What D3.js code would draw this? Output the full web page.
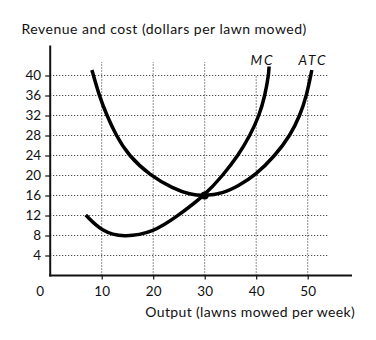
<!DOCTYPE html>
<html>
<head>
<meta charset="utf-8">
<script src="https://cdn.jsdelivr.net/npm/d3@7"></script>
<style>
  html, body { margin: 0; padding: 0; background: #fff; }
  svg { display: block; font-family: Lato, "Open Sans", sans-serif; }
</style>
</head>
<body>
<svg id="chart" width="376" height="340"></svg>
<script>
// Output ticks (lawns mowed per week) and cost ticks (dollars per lawn)
const xTicks = [10, 20, 30, 40, 50];
const yTicks = [4, 8, 12, 16, 20, 24, 28, 32, 36, 40];

// Marginal cost curve: [output, dollars]
const mcCurve = [
  [6.9, 12.1], [10, 8.8], [14.2, 7.6], [20, 8.6], [24.6, 11.8], [30, 16],
  [33.5, 20], [36.5, 24], [38.8, 28], [40.6, 32], [41.7, 36], [42.4, 40], [42.5, 41.8]
];

// Average total cost curve: [output, dollars]
const atcCurve = [
  [8.1, 41.1], [9.5, 36], [11.0, 32], [12.8, 28], [15.2, 24], [19.4, 20],
  [23.9, 17.4], [27.1, 16.2], [30, 15.9], [33.5, 16.4], [36.5, 17.9], [39.8, 20],
  [43.7, 24], [46.6, 28], [48.5, 32], [49.8, 36], [50.8, 41.1]
];

// Where MC crosses ATC at its minimum
const minATC = [30, 16];

const svg = d3.select("#chart");

const x = d3.scaleLinear().domain([0, 50]).range([50.2, 307.7]);
const y = d3.scaleLinear().domain([0, 40]).range([275.5, 75.5]);

// Dotted grid
const grid = svg.append("g")
  .attr("stroke", "#222")
  .attr("stroke-width", 1)
  .attr("stroke-dasharray", "1,2");

grid.selectAll("line.h").data(yTicks).join("line")
  .attr("class", "h")
  .attr("x1", x(0)).attr("x2", x(54))
  .attr("y1", d => y(d)).attr("y2", d => y(d));

grid.selectAll("line.v").data(xTicks).join("line")
  .attr("class", "v")
  .attr("x1", d => x(d)).attr("x2", d => x(d))
  .attr("y1", y(0)).attr("y2", d => y(d >= 40 ? 40 : 42.7));

// Axes
const yAxis = svg.append("g")
  .attr("transform", `translate(${x(0)},0)`)
  .call(d3.axisLeft(y).tickValues(yTicks).tickSize(5).tickPadding(4));

const xAxis = svg.append("g")
  .attr("transform", `translate(0,${y(0)})`)
  .call(d3.axisBottom(x).tickValues(xTicks).tickSize(4).tickPadding(7));

[yAxis, xAxis].forEach(g => {
  g.select(".domain").remove();
  g.selectAll(".tick line").attr("stroke", "#111").attr("stroke-width", 1.2);
  g.selectAll(".tick text")
    .attr("fill", "#111")
    .style("font-family", "Lato, 'Open Sans', sans-serif")
    .style("font-size", "13.5px");
});

// Axis lines, extended past the last tick
svg.append("line")
  .attr("x1", x(0)).attr("x2", x(0))
  .attr("y1", y(0) + 1).attr("y2", y(46))
  .attr("stroke", "#111").attr("stroke-width", 2);
svg.append("line")
  .attr("x1", x(0) - 1).attr("x2", x(58.6))
  .attr("y1", y(0)).attr("y2", y(0))
  .attr("stroke", "#111").attr("stroke-width", 2);

// Origin label
svg.append("text")
  .attr("x", x(0) - 10).attr("y", y(0) + 20.5)
  .attr("text-anchor", "middle")
  .attr("fill", "#111")
  .style("font-size", "13.5px")
  .text("0");

// Cost curves, smoothed through the sampled points
const line = d3.line()
  .x(d => x(d[0])).y(d => y(d[1]))
  .curve(d3.curveBasis);

svg.append("path").datum(atcCurve)
  .attr("d", line)
  .attr("fill", "none").attr("stroke", "#000").attr("stroke-width", 3.5);

svg.append("path").datum(mcCurve)
  .attr("d", line)
  .attr("fill", "none").attr("stroke", "#000").attr("stroke-width", 3.5);

svg.append("circle")
  .attr("cx", x(minATC[0])).attr("cy", y(minATC[1]))
  .attr("r", 4).attr("fill", "#000");

// Curve labels
svg.append("text")
  .attr("x", 262.5).attr("y", 64.5)
  .attr("text-anchor", "middle")
  .attr("fill", "#111")
  .style("font-size", "13.5px").style("font-style", "italic")
  .style("letter-spacing", "2px")
  .text("MC");

svg.append("text")
  .attr("x", 313).attr("y", 64.5)
  .attr("text-anchor", "middle")
  .attr("fill", "#111")
  .style("font-size", "13.5px").style("font-style", "italic")
  .style("letter-spacing", "2px")
  .text("ATC");

// Axis titles
svg.append("text")
  .attr("x", 21.5).attr("y", 34)
  .attr("fill", "#111")
  .style("font-size", "14px")
  .style("letter-spacing", "0.5px")
  .text("Revenue and cost (dollars per lawn mowed)");

svg.append("text")
  .attr("x", 355).attr("y", 316.5)
  .attr("text-anchor", "end")
  .attr("fill", "#111")
  .style("font-size", "14px")
  .style("letter-spacing", "0.35px")
  .text("Output (lawns mowed per week)");
</script>
</body>
</html>
